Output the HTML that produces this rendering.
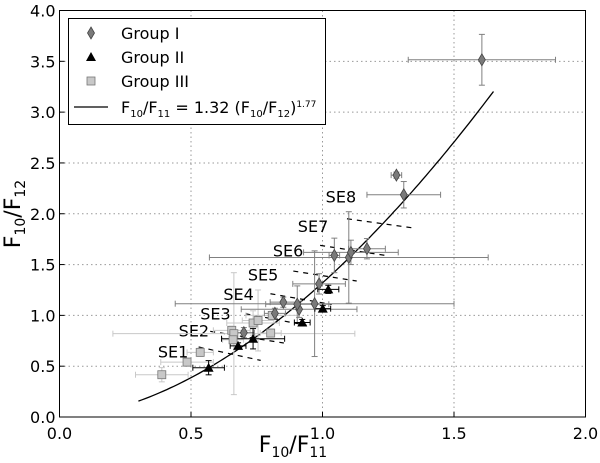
<!DOCTYPE html>
<html><head><meta charset="utf-8"><style>
html,body{margin:0;padding:0;background:#fff;}
body{position:relative;width:600px;height:463px;overflow:hidden}
svg{display:block;font-family:"DejaVu Sans","Liberation Sans",sans-serif;}
</style></head><body>
<svg id="chart" width="600" height="463" viewBox="0 0 600 463" xmlns="http://www.w3.org/2000/svg"></svg>
<script>
// ---- data ----
const g1x = [1.606,1.281,1.309,1.169,1.045,1.100,1.108,0.987,0.970,0.911,0.904,0.851,0.819,0.701];
const g1y = [3.515,2.380,2.187,1.656,1.590,1.570,1.620,1.310,1.115,1.060,1.110,1.130,1.020,0.830];
const g1xe = [0.28,0.02,0.14,0.07,0.02,0.53,0.18,0.10,0.53,0.22,0.12,0.05,0.04,0.04];
const g1ye = [0.25,0.03,0.13,0.10,0.17,0.45,0.12,0.10,0.52,0.08,0.18,0.05,0.05,0.05];
const g2x = [0.567,0.679,0.736,0.923,1.001,1.022];
const g2y = [0.485,0.700,0.770,0.930,1.066,1.256];
const g2xe = [0.06,0.03,0.12,0.03,0.03,0.04];
const g2ye = [0.07,0.03,0.10,0.03,0.03,0.04];
const g3x = [0.389,0.485,0.535,0.655,0.663,0.660,0.736,0.755,0.809,0.803];
const g3y = [0.416,0.540,0.636,0.853,0.820,0.760,0.925,0.950,1.000,0.826];
const g3xe = [0.10,0.10,0.05,0.07,0.46,0.04,0.10,0.06,0.10,0.04];
const g3ye = [0.07,0.04,0.04,0.04,0.60,0.04,0.12,0.30,0.04,0.04];
const seNames = ["SE1","SE2","SE3","SE4","SE5","SE6","SE7","SE8"];
const seX1 = [0.529,0.573,0.707,0.802,0.889,0.991,1.093,null];
const seY1 = [0.689,0.843,1.016,1.213,1.436,1.689,1.951,null];
const seX2 = [0.765,0.853,0.940,1.035,1.130,1.239,1.341,null];
const seY2 = [0.557,0.728,0.902,1.108,1.338,1.590,1.862,null];
const seLX = [0.432,0.511,0.593,0.681,0.774,0.869,0.964,1.070];
const seLY = [0.643,0.850,1.020,1.210,1.400,1.640,1.880,2.170];
const xTicks = [0,0.5,1.0,1.5,2.0];
const xTickLabels = ["0.0","0.5","1.0","1.5","2.0"];
const yTicks = [0,0.5,1,1.5,2,2.5,3,3.5,4];
const yTickLabels = ["0.0","0.5","1.0","1.5","2.0","2.5","3.0","3.5","4.0"];
const fitA = 1.32, fitB = 1.77, fitMin = 0.3, fitMax = 1.65;

// ---- axes ----
const L=59.5, R=585.5, T=10.5, B=417;
const sx = v => L + (v-0)/(2-0)*(R-L);
const sy = v => B - (v-0)/(4-0)*(B-T);
const NS="http://www.w3.org/2000/svg";
const svg=document.getElementById('chart');
function mk(tag,attrs,parent){const e=document.createElementNS(NS,tag);for(const k in attrs)e.setAttribute(k,attrs[k]);(parent||svg).appendChild(e);return e;}

xTicks.forEach((t,i)=>{
  if(i>0&&i<xTicks.length-1){const g=mk('line',{x1:sx(t),x2:sx(t),y1:T,y2:B,stroke:'#999','stroke-dasharray':'1.5,3','stroke-width':1});
  
  }
  const tk=mk('line',{x1:sx(t),x2:sx(t),y1:B,y2:B-5,stroke:'#000'});
  
  
  const lb=mk('text',{x:sx(t),y:B+22,'text-anchor':'middle','font-size':16});
  lb.textContent=xTickLabels[i];
  
  
});
yTicks.forEach((t,i)=>{
  if(i>0&&i<yTicks.length-1){const g=mk('line',{x1:L,x2:R,y1:sy(t),y2:sy(t),stroke:'#999','stroke-dasharray':'1.5,3','stroke-width':1});
  
  }
  const tk=mk('line',{x1:L,x2:L+5,y1:sy(t),y2:sy(t),stroke:'#000'});
  
  
  const lb=mk('text',{x:L-4,y:sy(t)+6,'text-anchor':'end','font-size':16});
  lb.textContent=yTickLabels[i];
  
  
});

let d='';
for(let i=0;i<=100;i++){const x=fitMin+(fitMax-fitMin)*i/100;const y=fitA*Math.pow(x,fitB);d+=(i?'L':'M')+sx(x).toFixed(1)+','+sy(y).toFixed(1);}
const curve=mk('path',{d:d,fill:'none',stroke:'#000','stroke-width':1.3});



seNames.forEach((n,i)=>{
  if(seX1[i]!==null){const l=mk('line',{x1:sx(seX1[i]),y1:sy(seY1[i]),x2:sx(seX2[i]),y2:sy(seY2[i]),stroke:'#000','stroke-dasharray':'5,5','stroke-width':1.2});
  
  }
  const t=mk('text',{x:sx(seLX[i]),y:sy(seLY[i])+6,'text-anchor':'middle','font-size':16});
  t.textContent=n;
  
  
});

function errbars(xs,ys,xe,ye,col,name){
  xs.forEach((x,i)=>{
    const g=mk('g',{stroke:col,'stroke-width':1});
    
    
    const x1=sx(x-xe[i]),x2=sx(x+xe[i]),y1=sy(ys[i]-ye[i]),y2=sy(ys[i]+ye[i]),cx=sx(x),cy=sy(ys[i]);
    mk('line',{x1:x1,x2:x2,y1:cy,y2:cy},g);
    mk('line',{x1:x1,x2:x1,y1:cy-3,y2:cy+3},g);
    mk('line',{x1:x2,x2:x2,y1:cy-3,y2:cy+3},g);
    mk('line',{x1:cx,x2:cx,y1:y1,y2:y2},g);
    mk('line',{x1:cx-3,x2:cx+3,y1:y1,y2:y1},g);
    mk('line',{x1:cx-3,x2:cx+3,y1:y2,y2:y2},g);
  });
}
errbars(g3x,g3y,g3xe,g3ye,'#c8c8c8','group3');
errbars(g1x,g1y,g1xe,g1ye,'#808080','group1');
errbars(g2x,g2y,g2xe,g2ye,'#000','group2');

function diamond(cx,cy){return `M${cx},${cy-6}L${cx+3.5},${cy}L${cx},${cy+6}L${cx-3.5},${cy}Z`;}
function tri(cx,cy){return `M${cx},${cy-5}L${cx+5},${cy+4}L${cx-5},${cy+4}Z`;}
g3x.forEach((x,i)=>{const r=mk('rect',{x:sx(x)-4,y:sy(g3y[i])-4,width:8,height:8,fill:'#c8c8c8',stroke:'#777','stroke-width':0.8});
  
  });
g1x.forEach((x,i)=>{const p=mk('path',{d:diamond(sx(x),sy(g1y[i])),fill:'#7a7a7a',stroke:'#444','stroke-width':0.8});
  
  });
g2x.forEach((x,i)=>{const p=mk('path',{d:tri(sx(x),sy(g2y[i])),fill:'#000'});
  
  });

const fr=mk('rect',{x:L,y:T,width:R-L,height:B-T,fill:'none',stroke:'#000','stroke-width':1});


</script>
<svg x="0" y="0" style="position:absolute;left:0;top:0" width="600" height="463">
  <g>
    <rect x="68.5" y="18.5" width="257" height="106" fill="#fff" stroke="#000" stroke-width="1"/>
    <path d="M91,27L94.5,33L91,39L87.5,33Z" fill="#7a7a7a" stroke="#444" stroke-width="0.8"/>
    <text x="121" y="39" font-size="16">Group I</text>
    <path d="M91,52L96,61L86,61Z" fill="#000"/>
    <text x="121" y="63" font-size="16">Group II</text>
    <rect x="87" y="77" width="8" height="8" fill="#c8c8c8" stroke="#777" stroke-width="0.8"/>
    <text x="121" y="87" font-size="16">Group III</text>
    <line x1="74" y1="107" x2="108" y2="107" stroke="#000" stroke-width="1.3"/>
    <text x="121" y="113" font-size="16">F<tspan font-size="10" dy="4">10</tspan><tspan dy="-4">/F</tspan><tspan font-size="10" dy="4">11</tspan><tspan dy="-4"> = 1.32 (F</tspan><tspan font-size="10" dy="4">10</tspan><tspan dy="-4">/F</tspan><tspan font-size="10" dy="4">12</tspan><tspan dy="-4">)</tspan><tspan font-size="9" dy="-6">1.77</tspan></text>
  </g>
  <text x="293" y="452" text-anchor="middle" font-size="22">F<tspan font-size="14" dy="5">10</tspan><tspan dy="-5">/F</tspan><tspan font-size="14" dy="5">11</tspan></text>
  <text transform="translate(20,214) rotate(-90)" text-anchor="middle" font-size="22">F<tspan font-size="14" dy="5">10</tspan><tspan dy="-5">/F</tspan><tspan font-size="14" dy="5">12</tspan></text>
</svg>
</body></html>
